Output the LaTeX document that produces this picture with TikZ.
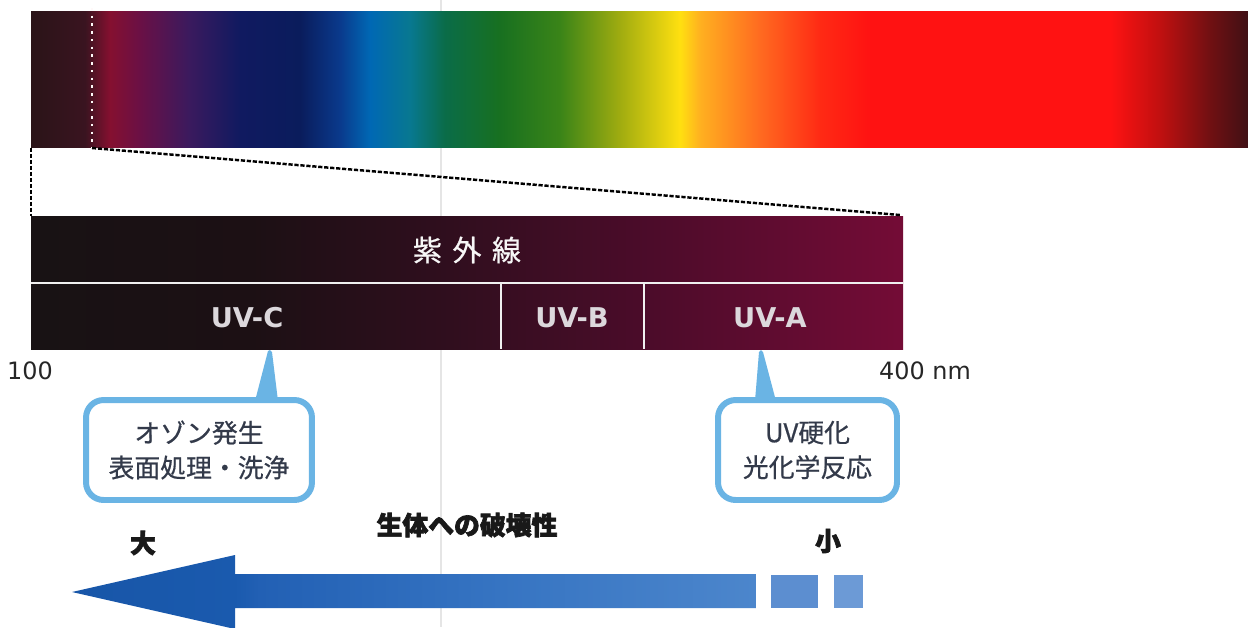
\documentclass[tikz,border=0pt]{standalone}
\usepackage{fontspec}
\setmainfont{DejaVu Sans}
\newfontfamily\cjk{Noto Sans CJK JP}
\newfontfamily\cjkmid{Noto Sans CJK JP}[FakeBold=0.6]
\newfontfamily\cjkheavy{Noto Sans CJK JP}[FakeBold=2.6]
\newfontfamily\dvs{DejaVu Sans}
% spectrum colours
\definecolor{sa}{HTML}{2A1418}
\definecolor{sb}{HTML}{3A1420}
\definecolor{sc}{HTML}{851030}
\definecolor{sd}{HTML}{6A1045}
\definecolor{se}{HTML}{3A1A5E}
\definecolor{sf}{HTML}{101A60}
\definecolor{sg}{HTML}{0A1C5C}
\definecolor{sh}{HTML}{0A3A8C}
\definecolor{si}{HTML}{0068B4}
\definecolor{sj}{HTML}{087890}
\definecolor{sk}{HTML}{0A6C48}
\definecolor{sl}{HTML}{187020}
\definecolor{sm}{HTML}{3A8418}
\definecolor{sn}{HTML}{A0AC10}
\definecolor{so}{HTML}{FFE010}
\definecolor{sp}{HTML}{FFB020}
\definecolor{sq}{HTML}{FF6A20}
\definecolor{sr}{HTML}{FF2A14}
\definecolor{ss}{HTML}{FF1212}
\definecolor{st}{HTML}{C01010}
\definecolor{su}{HTML}{701012}
\definecolor{sv}{HTML}{401015}
% UV bar colours
\definecolor{ua}{HTML}{181214}
\definecolor{ub}{HTML}{1C1014}
\definecolor{uc}{HTML}{300E1E}
\definecolor{ud}{HTML}{4C0C2A}
\definecolor{ue}{HTML}{740C36}
% arrow colours
\definecolor{aa}{HTML}{1856A8}
\definecolor{ab}{HTML}{1A5AAE}
\definecolor{ac}{HTML}{2260B4}
\definecolor{ad}{HTML}{3674C2}
\definecolor{ae}{HTML}{4C86CC}
\definecolor{af}{HTML}{5C8ED0}
\definecolor{ag}{HTML}{6C9AD6}
\definecolor{cbl}{HTML}{6AB4E4}
\definecolor{ctxt}{HTML}{333A4A}
\definecolor{uvtxt}{HTML}{DCD8DC}
\pgfdeclarehorizontalshading{spectrum}{100bp}{color(0bp)=(sa); color(25bp)=(sa); color(27.22bp)=(sb); color(28.25bp)=(sc); color(29.48bp)=(sd); color(31.53bp)=(se); color(33.59bp)=(sf); color(36.05bp)=(sg); color(37.70bp)=(sh); color(38.93bp)=(si); color(40.57bp)=(sj); color(42.01bp)=(sk); color(44.27bp)=(sl); color(46.73bp)=(sm); color(49.20bp)=(sn); color(51.66bp)=(so); color(52.49bp)=(sp); color(54.95bp)=(sq); color(57.42bp)=(sr); color(59.47bp)=(ss); color(69.33bp)=(ss); color(71.39bp)=(st); color(73.44bp)=(su); color(75bp)=(sv); color(100bp)=(sv)}
\pgfdeclarehorizontalshading{uvbar}{100bp}{color(0bp)=(ua); color(25bp)=(ua); color(37.56bp)=(ub); color(49.03bp)=(uc); color(60.5bp)=(ud); color(75bp)=(ue); color(100bp)=(ue)}
\pgfdeclarehorizontalshading{arrowsh}{100bp}{color(0bp)=(aa); color(25bp)=(aa); color(36.9bp)=(ab); color(38.7bp)=(ac); color(56.3bp)=(ad); color(75bp)=(ae); color(100bp)=(ae)}
\begin{document}
\begin{tikzpicture}[x=0.02cm,y=-0.02cm,
  callout/.style={draw=cbl, line width=3.4pt, fill=white, rounded corners=10pt, inner sep=0pt, align=center, text=ctxt, font=\cjkmid\fontsize{14.7}{19.8}\selectfont},
  uvlabel/.style={text=uvtxt, font=\dvs\bfseries\fontsize{15.5}{18}\selectfont, inner sep=0pt},
  scalelabel/.style={text=black!85, font=\dvs\fontsize{13.6}{16}\selectfont, inner sep=0pt},
  heavy/.style={text=black!90, font=\cjkheavy\bfseries\fontsize{14.7}{17}\selectfont, inner sep=0pt},
  guide/.style={black, line width=1.4pt, dash pattern=on 2.4pt off 1pt},
  divider/.style={white!88!gray, line width=0.9pt}]
\useasboundingbox (0,0) rectangle (1248,627);
\fill[white] (0,0) rectangle (1248,627);
\draw[black!10, line width=0.6pt] (441,0) -- (441,627);
% top spectrum
\shade[shading=spectrum] (31,11) rectangle (1248,147);
\coordinate (zTop) at (92,8);
\coordinate (zBot) at (92,148);
\coordinate (sBL) at (31,148);
\draw[white!90!pink, line width=1pt, dash pattern=on 1.4pt off 3pt] (zTop) -- (zBot);
% UV bar
\shade[shading=uvbar] (31,216) rectangle (903,349);
\coordinate (uTL) at (31,216);
\coordinate (uTR) at (900,215);
\draw[guide] (zBot) -- (uTR);
\draw[guide] (sBL) -- (uTL);
\coordinate (hL) at (31,283);
\coordinate (hR) at (903,283);
\draw[divider] (hL) -- (hR);
\coordinate (d1t) at (501,283); \coordinate (d1b) at (501,349);
\coordinate (d2t) at (644,283); \coordinate (d2b) at (644,349);
\draw[divider] (d1t) -- (d1b);
\draw[divider] (d2t) -- (d2b);
\node[text=white!94!gray, font=\cjkmid\fontsize{16.5}{18}\selectfont, inner sep=0pt] (uv) at (467,250) {紫\hspace{6pt}外\hspace{6pt}線};
\node[uvlabel] (uvc) at (247,318) {UV-C};
\node[uvlabel] (uvb) at (572,318) {UV-B};
\node[uvlabel] (uva) at (770,318) {UV-A};
\node[scalelabel] (n100) at (30,371) {100};
\node[scalelabel] (n400) at (925,371) {400 nm};
% callouts
\node[callout, minimum width=4.52cm, minimum height=2cm] (c1) at (199,450) {オゾン発生\\表面処理・洗浄};
\node[callout, minimum width=3.58cm, minimum height=2cm] (c2) at (807.5,450) {UV硬化\\光化学反応};
\coordinate (t1) at (270,350);
\coordinate (t2) at (761,350);
\fill[cbl] (255,401) -- (268,351) -- (t1) -- (272,352) -- (278,401) -- cycle;
\fill[cbl] (755,401) -- (759,352) -- (t2) -- (763,352) -- (776,401) -- cycle;
% bottom arrow
\node[heavy] (title) at (467,525) {生体への破壊性};
\node[heavy] (big) at (143,543) {大};
\node[heavy] (small) at (828,541) {小};
\shade[shading=arrowsh] (72,592) -- (235,555) -- (235,574) -- (756,574) -- (756,608) -- (235,608) -- (235,629) -- cycle;
\fill[af] (771,575) rectangle (818,608);
\fill[ag] (834,575) rectangle (863,608);
\end{tikzpicture}
\end{document}
